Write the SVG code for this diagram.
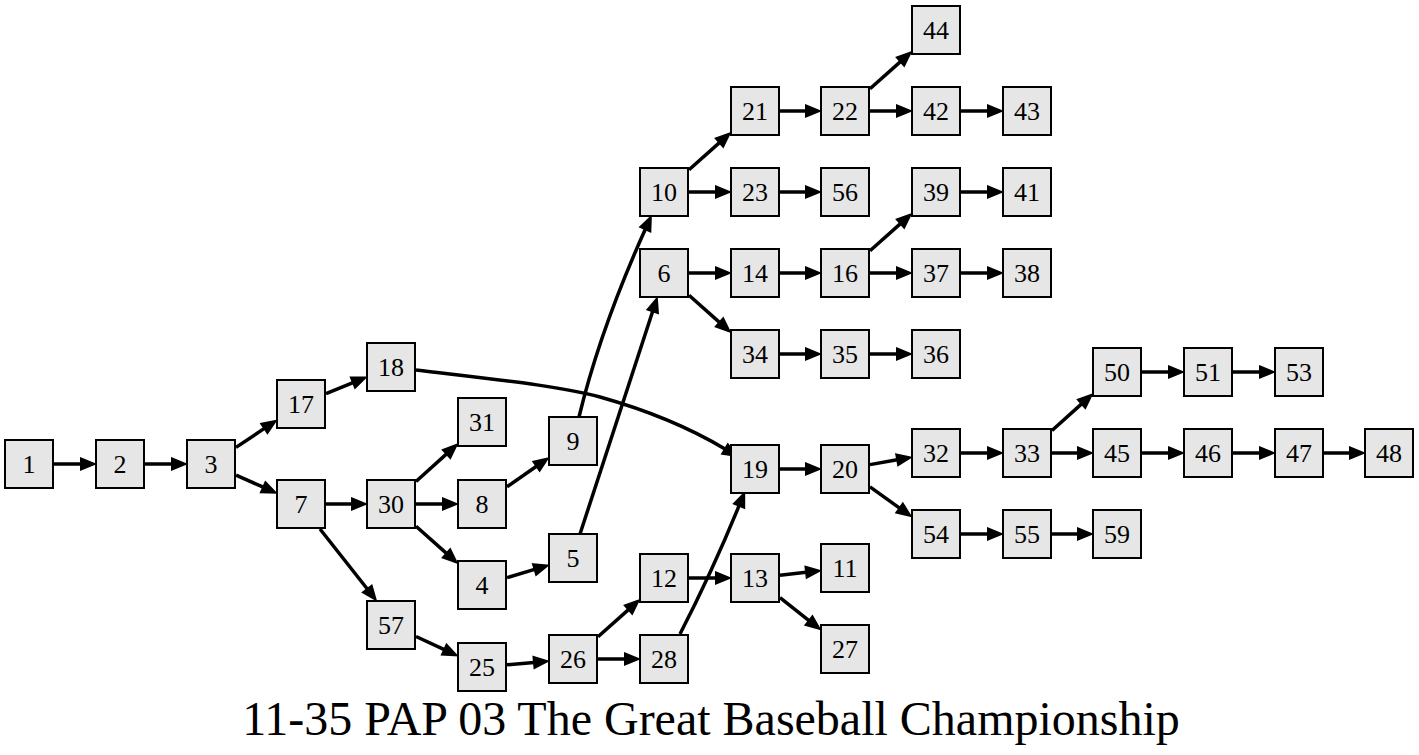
<svg xmlns="http://www.w3.org/2000/svg" width="1419" height="755" viewBox="0 0 1419 755">
<style>
.n rect{fill:#e6e6e6;stroke:#000;stroke-width:2}
.n text{font-family:"Liberation Serif","Times New Roman",serif;font-size:26px;text-anchor:middle;fill:#000}
#edges path{fill:none;stroke:#000;stroke-width:3.5;marker-end:url(#ah)}
.title{font-family:"Liberation Serif","Times New Roman",serif;font-size:48px;text-anchor:middle;fill:#000}
</style>
<defs>
<marker id="ah" markerUnits="userSpaceOnUse" markerWidth="20" markerHeight="20" refX="0" refY="0" orient="auto" overflow="visible">
<path d="M0,-5.5 L13.5,0 L0,5.5 z" fill="#000" stroke="#000" stroke-width="2"/>
</marker>
</defs>
<rect width="1419" height="755" fill="#fff"/>
<g id="edges">
<path d="M54,464 L81,464"/>
<path d="M145,464 L172,464"/>
<path d="M236,447.4 L264.4,428.4"/>
<path d="M236,475.1 L263.2,487.2"/>
<path d="M326,393.7 L353,382.6"/>
<path d="M416,370 C500,380 560,386 600,397 C650,411 690,428 725,449"/>
<path d="M326,504 L352,504"/>
<path d="M320,529 L367.3,589"/>
<path d="M416,481.5 L446.6,453.9"/>
<path d="M416,504 L443,504"/>
<path d="M416,526.3 L446.5,553.4"/>
<path d="M507,486.7 L536.5,466.3"/>
<path d="M507,577.6 L534.6,569.4"/>
<path d="M416,636.5 L444.3,649.6"/>
<path d="M507,664.8 L534,662.4"/>
<path d="M598,636.7 L628.5,609.6"/>
<path d="M598,659 L625,659"/>
<path d="M689,578 L716,578"/>
<path d="M780,575.2 L806.1,572.3"/>
<path d="M780,597.7 L809,620.6"/>
<path d="M680,634 Q712,572 739.1,505.7"/>
<path d="M579,417 Q600,330 645.3,229.2"/>
<path d="M580,534 L652.7,311.3"/>
<path d="M689,295.3 L719.5,322.4"/>
<path d="M689,273 L716,273"/>
<path d="M689,169.7 L719.5,142.6"/>
<path d="M689,192 L716,192"/>
<path d="M780,111 L806,111"/>
<path d="M780,192 L806,192"/>
<path d="M780,273 L806,273"/>
<path d="M780,354 L806,354"/>
<path d="M870,88.7 L900.5,61.6"/>
<path d="M870,111 L897,111"/>
<path d="M870,250.7 L900.5,223.6"/>
<path d="M870,273 L897,273"/>
<path d="M870,354 L897,354"/>
<path d="M961,111 L988,111"/>
<path d="M961,192 L988,192"/>
<path d="M961,273 L988,273"/>
<path d="M780,469 L806,469"/>
<path d="M870,464.6 L897.2,459.8"/>
<path d="M870,486.8 L899.6,508.1"/>
<path d="M961,453 L988,453"/>
<path d="M1052,430.5 L1081.6,403.9"/>
<path d="M1052,453 L1078,453"/>
<path d="M1142,453 L1169,453"/>
<path d="M1233,453 L1260,453"/>
<path d="M1324,453 L1350,453"/>
<path d="M1142,372 L1169,372"/>
<path d="M1233,372 L1260,372"/>
<path d="M961,534 L988,534"/>
<path d="M1052,534 L1078,534"/>
</g>
<g id="n1" class="n"><rect x="5" y="440" width="48" height="48"/><text x="29" y="473">1</text></g>
<g id="n2" class="n"><rect x="96" y="440" width="48" height="48"/><text x="120" y="473">2</text></g>
<g id="n3" class="n"><rect x="187" y="440" width="48" height="48"/><text x="211" y="473">3</text></g>
<g id="n17" class="n"><rect x="277" y="380" width="48" height="48"/><text x="301" y="413">17</text></g>
<g id="n7" class="n"><rect x="277" y="480" width="48" height="48"/><text x="301" y="513">7</text></g>
<g id="n18" class="n"><rect x="367" y="343" width="48" height="48"/><text x="391" y="376">18</text></g>
<g id="n30" class="n"><rect x="367" y="480" width="48" height="48"/><text x="391" y="513">30</text></g>
<g id="n57" class="n"><rect x="367" y="601" width="48" height="48"/><text x="391" y="634">57</text></g>
<g id="n31" class="n"><rect x="458" y="398" width="48" height="48"/><text x="482" y="431">31</text></g>
<g id="n8" class="n"><rect x="458" y="480" width="48" height="48"/><text x="482" y="513">8</text></g>
<g id="n4" class="n"><rect x="458" y="561" width="48" height="48"/><text x="482" y="594">4</text></g>
<g id="n25" class="n"><rect x="458" y="643" width="48" height="48"/><text x="482" y="676">25</text></g>
<g id="n9" class="n"><rect x="549" y="417" width="48" height="48"/><text x="573" y="450">9</text></g>
<g id="n5" class="n"><rect x="549" y="534" width="48" height="48"/><text x="573" y="567">5</text></g>
<g id="n26" class="n"><rect x="549" y="635" width="48" height="48"/><text x="573" y="668">26</text></g>
<g id="n10" class="n"><rect x="640" y="168" width="48" height="48"/><text x="664" y="201">10</text></g>
<g id="n6" class="n"><rect x="640" y="249" width="48" height="48"/><text x="664" y="282">6</text></g>
<g id="n12" class="n"><rect x="640" y="554" width="48" height="48"/><text x="664" y="587">12</text></g>
<g id="n28" class="n"><rect x="640" y="635" width="48" height="48"/><text x="664" y="668">28</text></g>
<g id="n21" class="n"><rect x="731" y="87" width="48" height="48"/><text x="755" y="120">21</text></g>
<g id="n23" class="n"><rect x="731" y="168" width="48" height="48"/><text x="755" y="201">23</text></g>
<g id="n14" class="n"><rect x="731" y="249" width="48" height="48"/><text x="755" y="282">14</text></g>
<g id="n34" class="n"><rect x="731" y="330" width="48" height="48"/><text x="755" y="363">34</text></g>
<g id="n19" class="n"><rect x="731" y="445" width="48" height="48"/><text x="755" y="478">19</text></g>
<g id="n13" class="n"><rect x="731" y="554" width="48" height="48"/><text x="755" y="587">13</text></g>
<g id="n22" class="n"><rect x="821" y="87" width="48" height="48"/><text x="845" y="120">22</text></g>
<g id="n56" class="n"><rect x="821" y="168" width="48" height="48"/><text x="845" y="201">56</text></g>
<g id="n16" class="n"><rect x="821" y="249" width="48" height="48"/><text x="845" y="282">16</text></g>
<g id="n35" class="n"><rect x="821" y="330" width="48" height="48"/><text x="845" y="363">35</text></g>
<g id="n20" class="n"><rect x="821" y="445" width="48" height="48"/><text x="845" y="478">20</text></g>
<g id="n11" class="n"><rect x="821" y="544" width="48" height="48"/><text x="845" y="577">11</text></g>
<g id="n27" class="n"><rect x="821" y="625" width="48" height="48"/><text x="845" y="658">27</text></g>
<g id="n44" class="n"><rect x="912" y="6" width="48" height="48"/><text x="936" y="39">44</text></g>
<g id="n42" class="n"><rect x="912" y="87" width="48" height="48"/><text x="936" y="120">42</text></g>
<g id="n39" class="n"><rect x="912" y="168" width="48" height="48"/><text x="936" y="201">39</text></g>
<g id="n37" class="n"><rect x="912" y="249" width="48" height="48"/><text x="936" y="282">37</text></g>
<g id="n36" class="n"><rect x="912" y="330" width="48" height="48"/><text x="936" y="363">36</text></g>
<g id="n32" class="n"><rect x="912" y="429" width="48" height="48"/><text x="936" y="462">32</text></g>
<g id="n54" class="n"><rect x="912" y="510" width="48" height="48"/><text x="936" y="543">54</text></g>
<g id="n43" class="n"><rect x="1003" y="87" width="48" height="48"/><text x="1027" y="120">43</text></g>
<g id="n41" class="n"><rect x="1003" y="168" width="48" height="48"/><text x="1027" y="201">41</text></g>
<g id="n38" class="n"><rect x="1003" y="249" width="48" height="48"/><text x="1027" y="282">38</text></g>
<g id="n33" class="n"><rect x="1003" y="429" width="48" height="48"/><text x="1027" y="462">33</text></g>
<g id="n55" class="n"><rect x="1003" y="510" width="48" height="48"/><text x="1027" y="543">55</text></g>
<g id="n50" class="n"><rect x="1093" y="348" width="48" height="48"/><text x="1117" y="381">50</text></g>
<g id="n45" class="n"><rect x="1093" y="429" width="48" height="48"/><text x="1117" y="462">45</text></g>
<g id="n59" class="n"><rect x="1093" y="510" width="48" height="48"/><text x="1117" y="543">59</text></g>
<g id="n51" class="n"><rect x="1184" y="348" width="48" height="48"/><text x="1208" y="381">51</text></g>
<g id="n46" class="n"><rect x="1184" y="429" width="48" height="48"/><text x="1208" y="462">46</text></g>
<g id="n53" class="n"><rect x="1275" y="348" width="48" height="48"/><text x="1299" y="381">53</text></g>
<g id="n47" class="n"><rect x="1275" y="429" width="48" height="48"/><text x="1299" y="462">47</text></g>
<g id="n48" class="n"><rect x="1365" y="429" width="48" height="48"/><text x="1389" y="462">48</text></g>
<text class="title" x="711" y="735">11-35 PAP 03 The Great Baseball Championship</text>
</svg>
